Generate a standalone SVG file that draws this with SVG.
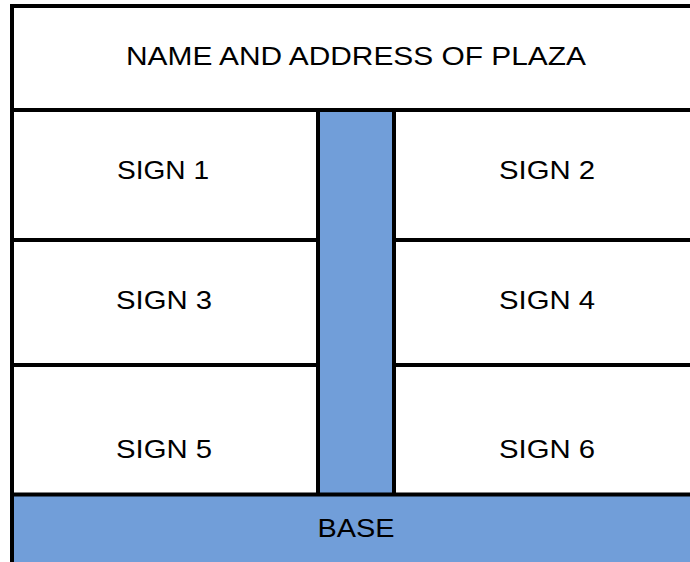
<svg xmlns="http://www.w3.org/2000/svg" width="690" height="562" viewBox="0 0 690 562">
<style>
.ln{stroke:#000;stroke-width:4;fill:none}
.blue{fill:#719ed9}
.t{font-family:"Liberation Sans",Arial,sans-serif;font-size:26px;fill:#000;text-anchor:middle}
</style>
<rect width="690" height="562" fill="#fff"/>
<g id="base">
<rect class="blue" x="12" y="494.5" width="680" height="70"/>
<text class="t" x="356" y="537" textLength="77" lengthAdjust="spacingAndGlyphs">BASE</text>
</g>
<g id="pillar">
<rect class="blue" x="318" y="110" width="76" height="384.5"/>
</g>
<g id="title">
<text class="t" x="356" y="65" textLength="460" lengthAdjust="spacingAndGlyphs">NAME AND ADDRESS OF PLAZA</text>
</g>
<g id="sign1"><text class="t" x="163" y="179" textLength="92" lengthAdjust="spacingAndGlyphs">SIGN 1</text></g>
<g id="sign2"><text class="t" x="547" y="179" textLength="96" lengthAdjust="spacingAndGlyphs">SIGN 2</text></g>
<g id="sign3"><text class="t" x="164" y="309" textLength="96" lengthAdjust="spacingAndGlyphs">SIGN 3</text></g>
<g id="sign4"><text class="t" x="547" y="309" textLength="96" lengthAdjust="spacingAndGlyphs">SIGN 4</text></g>
<g id="sign5"><text class="t" x="164" y="458" textLength="96" lengthAdjust="spacingAndGlyphs">SIGN 5</text></g>
<g id="sign6"><text class="t" x="547" y="458" textLength="96" lengthAdjust="spacingAndGlyphs">SIGN 6</text></g>
<g id="lines">
<path class="ln" d="M12 562 V6 H692"/>
<path class="ln" d="M12 110 H692"/>
<path class="ln" d="M318 494.5 V110 M394 494.5 V110"/>
<path class="ln" d="M12 240 H318 M394 240 H692 M12 365 H318 M394 365 H692"/>
<path class="ln" d="M12 494.5 H692"/>
</g>
</svg>
